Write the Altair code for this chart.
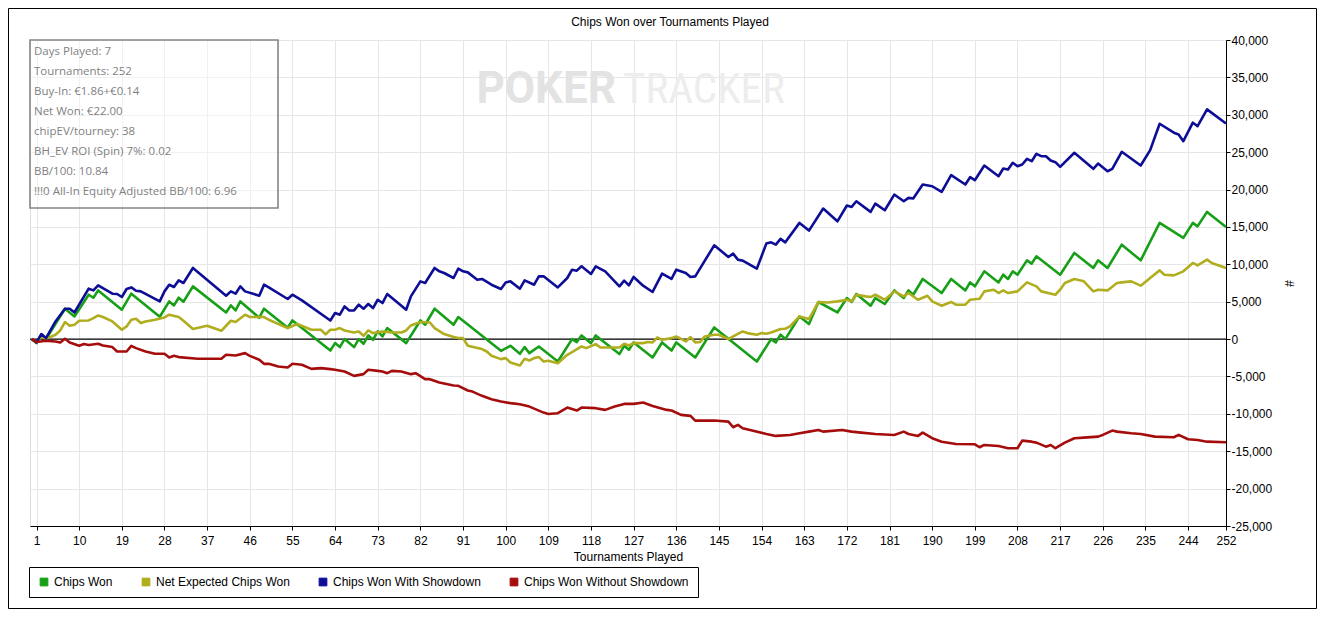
import altair as alt
import pandas as pd

TITLE = "Chips Won over Tournaments Played"
SERIES = ["Chips Won", "Net Expected Chips Won", "Chips Won With Showdown", "Chips Won Without Showdown"]
COLORS = ["#17a017", "#b0ad1e", "#0d0d96", "#a50d0d"]
X_TICKS = [1, 10, 19, 28, 37, 46, 55, 64, 73, 82, 91, 100, 109, 118, 127, 136, 145, 154,
           163, 172, 181, 190, 199, 208, 217, 226, 235, 244, 252]
Y_TICKS = [-25000, -20000, -15000, -10000, -5000, 0, 5000, 10000, 15000, 20000,
           25000, 30000, 35000, 40000]
INFO_LINES = ["Days Played: 7", "Tournaments: 252", "Buy-In: €1.86+€0.14", "Net Won: €22.00",
              "chipEV/tourney: 38", "BH_EV ROI (Spin) 7%: 0.02", "BB/100: 10.84",
              "!!!0 All-In Equity Adjusted BB/100: 6.96"]

# (tournament, chips) vertices
chips_won = [(0,0),(1,-540),(2,580),(3,0),(7,4060),(9,3030),(12,5930),(13,5530),(14,6510),(19,3930),
 (21,6070),(27,2990),(29,5040),(30,4500),(31,5530),(32,5000),(34,7050),(41,3560),(42,4500),(43,3830),
 (44,5040),(48,2850),(49,4060),(54,1510),(55,2490),(63,-1530),(64,-540),(65,-1070),(66,0),(68,-1070),
 (69,0),(70,-630),(71,480),(72,-100),(73,1020),(74,350),(75,1470),(79,-540),(82,2490),(83,1920),
 (85,4060),(89,1920),(90,2950),(99,-1570),(101,-900),(103,-1970),(104,-1070),(105,-1880),(107,-990),
 (111,-3000),(114,0),(115,-400),(116,480),(118,-540),(119,480),(124,-2000),(125,-900),(126,-1430),
 (127,-450),(131,-2460),(133,-450),(135,-1530),(136,-450),(140,-2460),(144,1550),(153,-3000),(156,0),
 (157,-450),(158,580),(159,0),(162,3030),(164,2010),(166,4960),(170,3560),(172,5490),(173,4960),
 (174,6030),(177,4460),(178,5490),(180,4690),(182,6510),(184,5490),(185,6510),(186,5930),(188,8040),
 (192,6160),(194,8040),(197,6510),(198,7580),(199,7050),(201,9060),(204,7580),(205,8610),(206,8040),
 (207,9060),(208,8610),(210,10530),(211,10090),(212,11070),(217,8610),(220,11520),(224,9510),
 (225,10530),(227,9510),(230,12630),(234,10530),(238,15540),(243,13530),(245,15540),(246,15080),
 (248,17010),(252,15000)]

net_expected = [(0,0),(1,-400),(2,300),(3,100),(4,300),(5,580),(6,1150),(7,2280),(8,1780),(9,1920),
 (10,2450),(12,2490),(13,2810),(14,3160),(15,2950),(17,2360),(19,1250),(20,1690),(21,2590),(22,2720),
 (23,2140),(24,2360),(26,2590),(28,2890),(29,3260),(31,2950),(32,2450),(34,1340),(37,1780),(40,1110),
 (41,1780),(42,2450),(43,2280),(45,3260),(46,2950),(49,2950),(50,2590),(54,1470),(56,2010),(59,1250),
 (61,1250),(62,620),(63,1250),(64,1250),(65,1470),(66,1150),(68,880),(69,1020),(70,440),(71,1150),
 (72,800),(74,1020),(76,880),(78,880),(79,1150),(80,1820),(82,2280),(84,2220),(85,1470),(87,670),
 (89,270),(90,130),(91,130),(92,-900),(95,-1340),(96,-1660),(97,-2240),(99,-2680),(100,-2550),
 (101,-3130),(103,-3530),(104,-2640),(105,-2860),(106,-2550),(107,-2410),(108,-3000),(109,-2910),
 (111,-3220),(113,-2100),(114,-1740),(116,-990),(117,-1210),(119,-670),(120,-1120),(122,-1120),
 (124,-1120),(125,-630),(126,-860),(127,-540),(129,-540),(130,-400),(131,-450),(132,210),(133,-100),
 (135,130),(136,350),(138,-320),(139,270),(140,-450),(141,-400),(142,350),(144,580),(145,580),(147,0),
 (148,350),(150,1020),(151,800),(153,580),(154,800),(155,710),(156,880),(158,1340),(159,1380),
 (160,1690),(162,3030),(164,2680),(166,4960),(168,4900),(170,5040),(172,5260),(173,5040),(174,5930),
 (176,5710),(177,5620),(178,5930),(180,5260),(182,6380),(184,5710),(185,6160),(187,5260),(189,5800),
 (190,5040),(192,4460),(194,4960),(195,4600),(197,4600),(198,5260),(200,5400),(201,6380),(203,6600),
 (204,6160),(205,6510),(206,6160),(208,6380),(210,7580),(212,7050),(213,6380),(216,5930),(217,6600),
 (218,7500),(220,8040),(222,7720),(224,6380),(225,6600),(227,6510),(229,7500),(230,7580),(232,7720),
 (234,7140),(236,8170),(238,9190),(239,8610),(241,8520),(243,9060),(245,10180),(246,9860),
 (248,10620),(249,10180),(252,9510)]

with_showdown = [(0,0),(1,-450),(2,670),(3,130),(5,2360),(7,4060),(8,4060),(9,3560),(12,6740),(13,6510),
 (14,7180),(17,6070),(18,6030),(19,5630),(20,6700),(21,6910),(22,6470),(23,6380),(27,5040),(28,6380),
 (29,7270),(30,6970),(31,7850),(32,7500),(34,9510),(41,5800),(42,6380),(43,6070),(44,7050),(45,6380),
 (48,5800),(49,7270),(50,6910),(54,5360),(55,5930),(57,5170),(63,2490),(64,3480),(65,3260),(66,4370),
 (67,3830),(68,3830),(69,4600),(70,4060),(71,4690),(72,4150),(73,5260),(74,4820),(75,6030),(79,3930),
 (80,5710),(82,7720),(83,7500),(85,9510),(86,9060),(87,8840),(89,8170),(90,9420),(91,9060),(92,8920),
 (94,7940),(95,8040),(97,7270),(99,6700),(100,7580),(101,7720),(103,6740),(104,7850),(106,7270),
 (107,8390),(108,8390),(111,6910),(113,8170),(114,9280),(115,9150),(116,9730),(118,8710),(119,9730),
 (121,9060),(123,7720),(124,7050),(125,7810),(126,7180),(127,8310),(129,7140),(131,6300),(133,8750),
 (135,8040),(136,9280),(138,8840),(139,8310),(140,8390),(144,12540),(147,10980),(148,11430),
 (149,10620),(150,10490),(153,9420),(155,12770),(156,12940),(157,12630),(158,13400),(159,12940),
 (162,15540),(164,14510),(167,17460),(170,15750),(172,17860),(173,17680),(174,18430),(177,17010),
 (178,18120),(180,17230),(182,19330),(184,18430),(185,18890),(186,18800),(188,20670),(190,20440),
 (192,19690),(194,21920),(197,20670),(198,21650),(199,21250),(201,23210),(204,21780),(205,22810),
 (206,22680),(207,23580),(208,23120),(209,23350),(210,24110),(211,23790),(212,24780),(213,24460),
 (214,24460),(215,23880),(216,23660),(217,23040),(220,24920),(224,22770),(225,23480),(227,22450),
 (228,22770),(230,25050),(234,23210),(236,25270),(238,28800),(241,27600),(242,27370),(243,26470),
 (245,28940),(246,28480),(248,30720),(252,28840)]

without_showdown = [(0,0),(1,-400),(3,-230),(5,-320),(6,-450),(7,40),(8,-450),(10,-900),(11,-670),
 (12,-800),(14,-630),(15,-860),(17,-1070),(18,-1660),(20,-1660),(21,-900),(22,-1210),(24,-1660),
 (26,-1970),(28,-1970),(29,-2460),(30,-2240),(31,-2410),(35,-2640),(38,-2640),(40,-2640),(41,-2100),
 (43,-2190),(45,-1880),(46,-2240),(48,-2770),(49,-3310),(50,-3310),(52,-3670),(54,-3800),(55,-3310),
 (57,-3440),(59,-3980),(61,-3890),(63,-4020),(64,-4110),(66,-4340),(68,-4920),(70,-4690),(71,-4110),
 (73,-4250),(74,-4340),(75,-4560),(76,-4250),(78,-4340),(80,-4690),(81,-4560),(83,-5360),(84,-5360),
 (86,-5810),(89,-6210),(90,-6250),(92,-6880),(93,-7020),(95,-7590),(97,-8040),(99,-8360),(101,-8570),
 (103,-8710),(105,-9030),(108,-9830),(109,-10010),(111,-9910),(113,-9160),(115,-9560),(116,-9160),
 (119,-9240),(121,-9470),(123,-9030),(125,-8670),(127,-8670),(129,-8490),(131,-8940),(134,-9470),
 (135,-9560),(137,-10140),(139,-10270),(140,-10900),(142,-10900),(144,-10900),(147,-11040),
 (148,-11790),(149,-11480),(150,-11920),(152,-12240),(155,-12690),(157,-12950),(160,-12820),
 (162,-12590),(164,-12380),(166,-12150),(167,-12380),(171,-12150),(173,-12380),(175,-12510),
 (178,-12690),(182,-12820),(184,-12380),(185,-12690),(187,-12950),(188,-12510),(190,-13260),
 (192,-13720),(195,-14030),(199,-14070),(200,-14470),(201,-14160),(204,-14290),(206,-14600),
 (208,-14600),(209,-13580),(211,-13720),(212,-13850),(214,-14390),(215,-14160),(216,-14600),
 (218,-13850),(220,-13260),(222,-13180),(225,-13050),(226,-12820),(228,-12240),(229,-12380),
 (232,-12590),(234,-12690),(237,-13050),(241,-13130),(242,-12820),(244,-13400),(246,-13490),
 (248,-13720),(252,-13800)]

FONT = "Liberation Sans, Arial, sans-serif"
INFO_FONT = "Open Sans, Noto Sans, sans-serif"
MARK_FONT = "Liberation Sans Narrow, Roboto Condensed, DejaVu Sans Condensed, Roboto, sans-serif"
W, H = 1196, 486

rows = []
for name, pts in zip(SERIES, [chips_won, net_expected, with_showdown, without_showdown]):
    for t, v in pts:
        rows.append({"t": t, "v": v, "series": name})
df = pd.DataFrame(rows)
one = pd.DataFrame({"a": [0]})

xscale = alt.Scale(domain=[-0.38, 252], nice=False, zero=False)
yscale = alt.Scale(domain=[-25000, 40000], nice=False, zero=False)
xaxis = alt.Axis(values=X_TICKS, title="Tournaments Played", grid=True, gridColor="#e6e6e6",
                 tickSize=4, labelPadding=5, titlePadding=5, domainColor="black", tickColor="black",
                 labelColor="black", titleColor="black", labelFont=FONT, titleFont=FONT,
                 labelFontSize=12, titleFontSize=12, titleFontWeight="normal", labelAngle=0,
                 labelOverlap=False, labelFlush=False)
yaxis = alt.Axis(orient="right", values=Y_TICKS, title="#", grid=True, gridColor="#e6e6e6",
                 tickSize=4, labelPadding=1, domainColor="black", tickColor="black",
                 labelColor="black", titleColor="black", labelFont=FONT, titleFont=FONT,
                 labelFontSize=12, titleFontSize=12, titleFontWeight="normal",
                 labelExpr="(datum.value < 0 ? '-' : '') + format(abs(datum.value), ',')",
                 titleAngle=90, titleX=62, titleY=H / 2, titleAlign="center",
                 titleBaseline="middle", labelOverlap=False, labelFlush=False)
legend = alt.Legend(title=None, orient="none", legendX=-1, legendY=527, direction="horizontal",
                    strokeColor="black", fillColor="white", padding=9, symbolType="square",
                    symbolSize=60, symbolStrokeColor="black", symbolStrokeWidth=1,
                    labelFont=FONT, labelFontSize=12, labelColor="black", columnPadding=27,
                    labelOffset=4, symbolOpacity=1, labelLimit=400)
color = alt.Color("series:N", scale=alt.Scale(domain=SERIES, range=COLORS), legend=legend)

watermark1 = alt.Chart(one).mark_text(text="POKER", font="Roboto", fontSize=44, fontWeight="bold",
                                     color="#e3e3e3", align="right", baseline="middle").encode(
    x=alt.value(586), y=alt.value(50))
watermark2 = alt.Chart(one).mark_text(text="TRACKER", font=MARK_FONT, fontSize=43, fontWeight="normal",
                                     color="#ededed", align="left", baseline="middle").encode(
    x=alt.value(593), y=alt.value(50))

# invisible filled squares: give the legend filled swatches
swatch = alt.Chart(df).mark_square(filled=True, opacity=0, size=1).encode(
    x=alt.X("t:Q", scale=xscale, axis=xaxis),
    y=alt.Y("v:Q", scale=yscale, axis=yaxis),
    color=color)

zero = alt.Chart(pd.DataFrame({"v": [0]})).mark_rule(color="black", strokeWidth=1.4).encode(
    y=alt.Y("v:Q", scale=yscale, axis=yaxis))

line_layers = []
for name in SERIES:
    line_layers.append(
        alt.Chart(df[df.series == name]).mark_line(strokeWidth=2.6, strokeJoin="round").encode(
            x=alt.X("t:Q", scale=xscale, axis=xaxis),
            y=alt.Y("v:Q", scale=yscale, axis=yaxis),
            color=color,
            order="t:Q"))

info_box = alt.Chart(one).mark_rect(fill="white", fillOpacity=0.45, stroke="#858585",
                                    strokeWidth=1.6).encode(
    x=alt.value(0), x2=alt.value(248), y=alt.value(0), y2=alt.value(168))
info_text = alt.Chart(one).mark_text(text="\n".join(INFO_LINES), lineBreak="\n", lineHeight=20,
                                     font=INFO_FONT, fontSize=11.5, color="#7f7f7f", align="left",
                                     baseline="top").encode(x=alt.value(4), y=alt.value(6))
title = alt.Chart(one).mark_text(text=TITLE, font=FONT, fontSize=12, color="black",
                                 align="center", baseline="middle").encode(
    x=alt.value(640), y=alt.value(-18))
frame = alt.Chart(one).mark_rect(fill=None, stroke="black", strokeWidth=1).encode(
    x=alt.value(-21.5), x2=alt.value(1286.5), y=alt.value(-31.5), y2=alt.value(568.5))

chart = alt.layer(swatch, watermark1, watermark2, zero, *line_layers, info_box, info_text, title, frame).properties(
    width=W, height=H,
    autosize=alt.AutoSizeParams(type="none"),
    padding={"left": 22, "top": 32, "right": 91, "bottom": 83},
).configure_view(stroke="black", strokeWidth=1).configure(background="white")

chart.save("out.html", embed_options={"renderer": "svg", "actions": False})
